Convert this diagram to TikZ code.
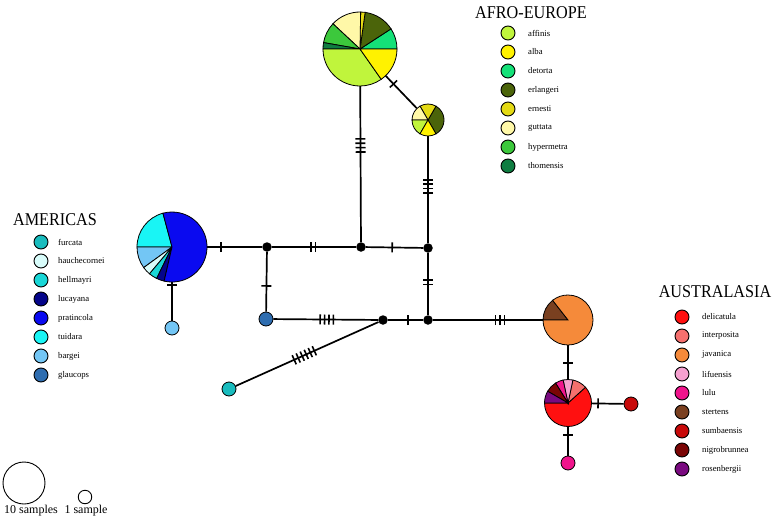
\documentclass[tikz,border=0pt]{standalone}
\usepackage{fontspec}
\setmainfont{Liberation Serif}
\usetikzlibrary{decorations.markings}
\definecolor{affinis}{RGB}{192,245,60}
\definecolor{alba}{RGB}{255,242,0}
\definecolor{detorta}{RGB}{20,225,120}
\definecolor{erlangeri}{RGB}{75,100,10}
\definecolor{ernesti}{RGB}{228,218,20}
\definecolor{guttata}{RGB}{255,248,168}
\definecolor{hypermetra}{RGB}{60,200,60}
\definecolor{thomensis}{RGB}{15,125,65}
\definecolor{furcata}{RGB}{25,188,190}
\definecolor{hauchecornei}{RGB}{216,252,250}
\definecolor{hellmayri}{RGB}{25,215,215}
\definecolor{lucayana}{RGB}{5,5,138}
\definecolor{pratincola}{RGB}{10,10,240}
\definecolor{tuidara}{RGB}{25,245,245}
\definecolor{bargei}{RGB}{115,198,245}
\definecolor{glaucops}{RGB}{46,109,176}
\definecolor{delicatula}{RGB}{255,16,16}
\definecolor{interposita}{RGB}{245,112,110}
\definecolor{javanica}{RGB}{245,138,58}
\definecolor{lifuensis}{RGB}{245,160,207}
\definecolor{lulu}{RGB}{240,20,140}
\definecolor{stertens}{RGB}{122,64,32}
\definecolor{sumbaensis}{RGB}{200,10,10}
\definecolor{nigrobrunnea}{RGB}{122,5,5}
\definecolor{rosenbergii}{RGB}{122,10,128}
\newcommand{\pieslice}[5]{\filldraw[fill=#5,draw=black,line width=0.8pt] (#1) -- ++(#3:#2) arc[start angle=#3,end angle=#4,radius=#2] -- cycle;}
\tikzset{
  junction/.style={circle,fill=black,inner sep=0pt,minimum size=9.5pt},
  hap/.style={circle,draw=black,line width=0.8pt,inner sep=0pt,minimum size=14pt,fill=#1},
  pienode/.style={circle,inner sep=0pt,minimum size=#1},
  link/.style={line width=1.7pt},
  legdot/.style={circle,draw=black,line width=0.9pt,inner sep=0pt,minimum size=14pt,fill=#1},
  leglabel/.style={anchor=west,font=\fontsize{8.7}{10}\selectfont,inner sep=0pt},
  legtitle/.style={font=\fontsize{18}{20}\selectfont,inner sep=0pt},
  sizelabel/.style={font=\fontsize{12}{14}\selectfont,inner sep=0pt},
  mut/.style 2 args={postaction={decorate,decoration={markings,mark=at position #2 with {\foreach \k in {1,...,#1}{\draw[line width=1.6pt] ({(\k-(#1+1)/2)*4.4pt},-5pt) -- ({(\k-(#1+1)/2)*4.4pt},5pt);}}}}}
}
\begin{document}
\begin{tikzpicture}[x=1pt,y=1pt]
\useasboundingbox (0,0) rectangle (772,-517);
% pie and haplotype nodes
\node[pienode=74pt] (afroA) at (360,-49) {};
\node[pienode=32pt] (afroB) at (428,-120) {};
\node[pienode=70pt] (amer) at (172,-247) {};
\node[pienode=50pt] (java) at (568,-320) {};
\node[pienode=47pt] (deli) at (568,-403) {};
\node[hap=bargei] (barg) at (172,-328) {};
\node[hap=glaucops] (glau) at (266,-319) {};
\node[hap=furcata] (furc) at (229,-389) {};
\node[hap=sumbaensis] (sumb) at (631,-404) {};
\node[hap=lulu] (lulu) at (568,-463) {};
\node[junction] (j1) at (267,-247) {};
\node[junction] (j2) at (361,-247) {};
\node[junction] (j3) at (428,-248) {};
\node[junction] (j4) at (383,-320) {};
\node[junction] (j5) at (428,-320) {};
% connectors
\draw[link,mut={1}{0.25}] (amer) -- (j1);
\draw[link,mut={1}{0.08}] (amer) -- (barg);
\draw[link,mut={2}{0.49}] (j1) -- (j2);
\draw[link,mut={1}{0.46}] (j2) -- (j3);
\draw[link,mut={1}{0.57}] (j1) -- (glau);
\draw[link,mut={4}{0.51}] (glau) -- (j4);
\draw[link,mut={1}{0.57}] (j4) -- (j5);
\draw[link,mut={2}{0.47}] (j3) -- (j5);
\draw[link,mut={4}{0.62}] (j2) -- (afroA);
\draw[link,mut={4}{0.53}] (j3) -- (afroB);
\draw[link,mut={1}{0.25}] (afroA) -- (afroB);
\draw[link,mut={6}{0.48}] (furc) -- (j4);
\draw[link,mut={3}{0.61}] (j5) -- (java);
\draw[link,mut={1}{0.52}] (java) -- (deli);
\draw[link,mut={1}{0.2}] (deli) -- (sumb);
\draw[link,mut={1}{0.29}] (deli) -- (lulu);
% big Afro-Europe pie
\pieslice{afroA.center}{37}{0}{33}{detorta}
\pieslice{afroA.center}{37}{33}{82}{erlangeri}
\pieslice{afroA.center}{37}{82}{89}{ernesti}
\pieslice{afroA.center}{37}{89}{137}{guttata}
\pieslice{afroA.center}{37}{137}{170}{hypermetra}
\pieslice{afroA.center}{37}{170}{180}{thomensis}
\pieslice{afroA.center}{37}{180}{305}{affinis}
\pieslice{afroA.center}{37}{305}{360}{alba}
% small Afro-Europe pie
\pieslice{afroB.center}{16}{-60}{60}{erlangeri}
\pieslice{afroB.center}{16}{60}{120}{ernesti}
\pieslice{afroB.center}{16}{120}{180}{guttata}
\pieslice{afroB.center}{16}{180}{240}{affinis}
\pieslice{afroB.center}{16}{240}{300}{alba}
% Americas pie
\pieslice{amer.center}{35}{105}{180}{tuidara}
\pieslice{amer.center}{35}{180}{216}{bargei}
\pieslice{amer.center}{35}{216}{230}{hauchecornei}
\pieslice{amer.center}{35}{230}{244}{hellmayri}
\pieslice{amer.center}{35}{244}{257}{lucayana}
\pieslice{amer.center}{35}{257}{465}{pratincola}
% javanica pie
\pieslice{java.center}{25}{128}{180}{stertens}
\pieslice{java.center}{25}{180}{488}{javanica}
% delicatula pie
\pieslice{deli.center}{23.5}{-180}{42}{delicatula}
\pieslice{deli.center}{23.5}{42}{78}{interposita}
\pieslice{deli.center}{23.5}{78}{102}{lifuensis}
\pieslice{deli.center}{23.5}{102}{122}{lulu}
\pieslice{deli.center}{23.5}{122}{150}{nigrobrunnea}
\pieslice{deli.center}{23.5}{150}{180}{rosenbergii}
% legends
\node[legtitle] (tAfro) at (531,-13) {\scalebox{0.9}[1]{AFRO-EUROPE}};
\foreach \n [count=\i] in {affinis,alba,detorta,erlangeri,ernesti,guttata,hypermetra,thomensis}{
  \node[legdot=\n] (la\i) at (508,{-33-19*(\i-1)}) {};
  \node[leglabel] (lta\i) at (528,{-33-19*(\i-1)}) {\n};
}
\node[legtitle] (tAmer) at (55,-220) {\scalebox{0.9}[1]{AMERICAS}};
\foreach \n [count=\i] in {furcata,hauchecornei,hellmayri,lucayana,pratincola,tuidara,bargei,glaucops}{
  \node[legdot=\n] (lm\i) at (41,{-242-19*(\i-1)}) {};
  \node[leglabel] (ltm\i) at (58,{-242-19*(\i-1)}) {\n};
}
\node[legtitle] (tAus) at (715,-292) {\scalebox{0.9}[1]{AUSTRALASIA}};
\foreach \n [count=\i] in {delicatula,interposita,javanica,lifuensis,lulu,stertens,sumbaensis,nigrobrunnea,rosenbergii}{
  \node[legdot=\n] (lu\i) at (682,{-317-19*(\i-1)}) {};
  \node[leglabel] (ltu\i) at (702,{-317-19*(\i-1)}) {\n};
}
% sample size legend
\node[circle,draw=black,line width=0.9pt,inner sep=0pt,minimum size=42pt] (s10) at (24,-483) {};
\node[circle,draw=black,line width=0.9pt,inner sep=0pt,minimum size=13.5pt] (s1) at (85,-497) {};
\node[sizelabel] (s10l) at (31,-511) {10 samples};
\node[sizelabel] (s1l) at (86,-511) {1 sample};
\end{tikzpicture}
\end{document}
